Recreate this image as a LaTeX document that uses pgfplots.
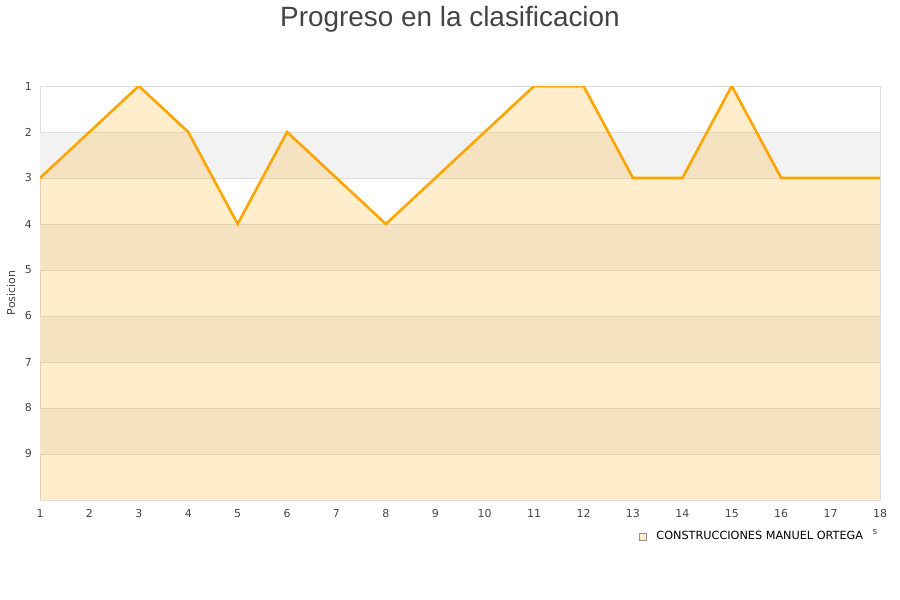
\documentclass[border=0pt]{standalone}
\usepackage{pgfplots}
\pgfplotsset{compat=1.18}
\usepackage{fontspec}
\setmainfont{DejaVu Sans}
\newfontfamily\titlefont{Liberation Sans}
\definecolor{lineor}{HTML}{FFA500}
\definecolor{band}{HTML}{F2F2F2}
\definecolor{gridc}{HTML}{DDDDDD}
\definecolor{txt}{HTML}{444444}
\begin{document}
\begin{tikzpicture}
\path[use as bounding box] (0bp,0bp) rectangle (900bp,600bp);
\node[anchor=base, text=txt, font=\titlefont\fontsize{28}{33}\selectfont] at (450bp,573bp) {Progreso en la clasificacion};
\node[rotate=90, text=txt, font=\fontsize{11}{13}\selectfont] at (11bp,307bp) {Posicion};
\node[text=txt, font=\fontsize{9}{10}\selectfont, inner sep=0pt] at (875bp,68bp) {s};
\begin{axis}[
  at={(40bp,100bp)}, anchor=south west,
  scale only axis, width=840bp, height=414bp,
  xmin=1, xmax=18, ymin=1, ymax=10,
  y dir=reverse,
  xtick={1,...,18}, ytick={1,...,9},
  major tick length=0pt,
  axis line style={draw=gridc, line width=0.8bp},
  /pgf/number format/assume math mode=true,
  ticklabel style={font=\fontsize{11}{13}\selectfont, text=txt},
  yticklabel style={inner sep=0pt, xshift=-8bp},
  xticklabel style={inner sep=0pt, yshift=-9bp},
  legend style={at={(0.713,-0.088)}, anchor=west, draw=none, fill=none, inner sep=0pt,
    font=\fontsize{11.3}{13}\selectfont, text=black},
  legend cell align=left,
]
% alternating background bands
\addplot[draw=none, fill=band, forget plot] coordinates {(1,2) (18,2) (18,3) (1,3) (1,2)};
\addplot[draw=none, fill=band, forget plot] coordinates {(1,4) (18,4) (18,5) (1,5) (1,4)};
\addplot[draw=none, fill=band, forget plot] coordinates {(1,6) (18,6) (18,7) (1,7) (1,6)};
\addplot[draw=none, fill=band, forget plot] coordinates {(1,8) (18,8) (18,9) (1,9) (1,8)};
% horizontal grid lines
\addplot[draw=gridc, line width=0.8bp, forget plot] coordinates {(1,2) (18,2)};
\addplot[draw=gridc, line width=0.8bp, forget plot] coordinates {(1,3) (18,3)};
\addplot[draw=gridc, line width=0.8bp, forget plot] coordinates {(1,4) (18,4)};
\addplot[draw=gridc, line width=0.8bp, forget plot] coordinates {(1,5) (18,5)};
\addplot[draw=gridc, line width=0.8bp, forget plot] coordinates {(1,6) (18,6)};
\addplot[draw=gridc, line width=0.8bp, forget plot] coordinates {(1,7) (18,7)};
\addplot[draw=gridc, line width=0.8bp, forget plot] coordinates {(1,8) (18,8)};
\addplot[draw=gridc, line width=0.8bp, forget plot] coordinates {(1,9) (18,9)};
% area under the line
\addplot[fill=lineor, fill opacity=0.2, draw=none, forget plot] coordinates {
(1,10) (1,3) (2,2) (3,1) (4,2) (5,4) (6,2) (7,3) (8,4) (9,3) (10,2) (11,1) (12,1) (13,3) (14,3) (15,1) (16,3) (17,3) (18,3) (18,10) (1,10)};
% line
\addplot[draw=lineor, line width=2.6bp, sharp plot, forget plot] coordinates {
(1,3) (2,2) (3,1) (4,2) (5,4) (6,2) (7,3) (8,4) (9,3) (10,2) (11,1) (12,1) (13,3) (14,3) (15,1) (16,3) (17,3) (18,3)};
\addlegendimage{legend image code/.code={\path[draw=none, fill=none] (0bp,0bp) -- (15bp,0bp); \draw[fill=lineor!20, draw=black!45, line width=0.6bp] (0bp,-3.5bp) rectangle (7bp,3.5bp);}}
\addlegendentry{CONSTRUCCIONES MANUEL ORTEGA}
\end{axis}
\end{tikzpicture}
\end{document}
